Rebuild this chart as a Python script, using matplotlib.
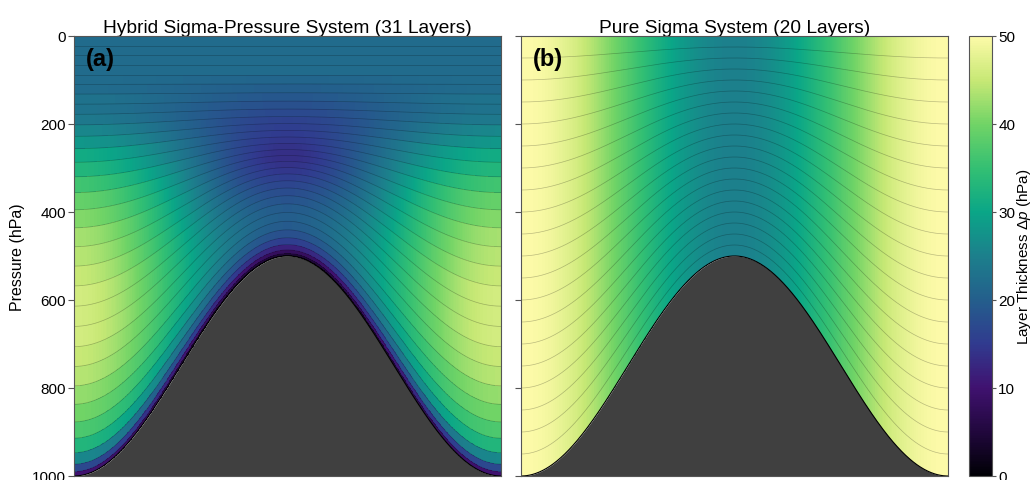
import numpy as np
import matplotlib
matplotlib.use("Agg")
import matplotlib.pyplot as plt
from matplotlib.colors import LinearSegmentedColormap

plt.rcParams["font.family"] = ["Liberation Sans", "DejaVu Sans"]
plt.rcParams["mathtext.fontset"] = "custom"
plt.rcParams["mathtext.rm"] = "Liberation Sans"
plt.rcParams["mathtext.it"] = "Liberation Sans:italic"

# hybrid half-level coefficients, p = a + b * ps  (31 layers)
a_half = [0, 22, 44, 66, 88, 108, 126, 141, 154, 164, 170, 173, 172, 168, 160, 148,
          134, 119, 104, 90, 77, 66, 57, 51, 47, 44, 40, 34, 25, 15, 7, 0]
b_half = [0, 0, 0, 0, 0, 0.002, 0.006, 0.014, 0.024, 0.038, 0.058, 0.083, 0.115,
          0.152, 0.196, 0.247, 0.302, 0.36, 0.419, 0.478, 0.537, 0.594, 0.649, 0.7,
          0.748, 0.793, 0.837, 0.88, 0.922, 0.958, 0.983, 1.0]
# pure sigma half levels (20 layers)
sigma_half = [0.0, 0.05, 0.1, 0.15, 0.2, 0.25, 0.3, 0.35, 0.4, 0.45, 0.5,
              0.55, 0.6, 0.65, 0.7, 0.75, 0.8, 0.85, 0.9, 0.95, 1.0]

p_base = 1000.0   # surface pressure away from mountain
p_peak = 500.0    # surface pressure at mountain top
titles = ["Hybrid Sigma-Pressure System (31 Layers)", "Pure Sigma System (20 Layers)"]
tags = ["(a)", "(b)"]

cmap = LinearSegmentedColormap.from_list("thick", [
    (0.00, (0.00, 0.00, 0.02)),
    (0.10, (0.13, 0.03, 0.24)),
    (0.20, (0.25, 0.07, 0.44)),
    (0.30, (0.19, 0.23, 0.56)),
    (0.40, (0.14, 0.37, 0.55)),
    (0.50, (0.11, 0.50, 0.55)),
    (0.60, (0.04, 0.65, 0.53)),
    (0.70, (0.20, 0.75, 0.45)),
    (0.80, (0.44, 0.83, 0.40)),
    (0.90, (0.78, 0.91, 0.46)),
    (1.00, (0.99, 0.98, 0.66)),
])

nx = 600
xe = np.linspace(-1, 1, nx + 1)
xc = 0.5 * (xe[1:] + xe[:-1])


def surface(x):
    return p_base - (p_base - p_peak) * 0.5 * (1 + np.cos(np.pi * x))


ps_e = surface(xe)
ps_c = surface(xc)

A_h = np.array(a_half, dtype=float)
B_h = np.array(b_half)
S = np.array(sigma_half)
systems = [(A_h, B_h), (np.zeros_like(S), S)]

fig = plt.figure(figsize=(10.33, 4.81), dpi=100)
W, H = 1033, 481
frames = [(74, 37, 427, 440), (521, 37, 427, 440)]
edge = "#555555"

for i, (A, B) in enumerate(systems):
    l, t, w, h = frames[i]
    ax = fig.add_axes([l / W, (H - t - h) / H, w / W, h / H])
    Y = A[:, None] + B[:, None] * ps_e[None, :]
    X = np.tile(xe, (len(A), 1))
    C = np.diff(A)[:, None] + np.diff(B)[:, None] * ps_c[None, :]
    mesh = ax.pcolormesh(X, Y, C, cmap=cmap, vmin=0, vmax=50, shading="flat")
    for k in range(1, len(A) - 1):
        ax.plot(xc, A[k] + B[k] * ps_c, color="k", alpha=0.25, lw=0.5, zorder=2)
    ax.fill_between(xc, ps_c, p_base, color="#404040", zorder=3, lw=0)
    ax.plot(xc, ps_c, color="k", lw=0.8, zorder=4)
    ax.set_xlim(-1, 1)
    ax.set_ylim(1000, 0)
    ax.set_xticks([])
    ax.set_yticks([0, 200, 400, 600, 800, 1000])
    ax.tick_params(axis="y", direction="out", length=4, width=0.8, color=edge,
                   labelsize=11, pad=2)
    if i == 1:
        ax.set_yticklabels([])
    else:
        ax.set_ylabel("Pressure (hPa)", fontsize=11.5, labelpad=5)
    for s in ax.spines.values():
        s.set_color(edge)
        s.set_linewidth(0.8)
        s.set_zorder(5)
    ax.set_title(titles[i], fontsize=13.8, pad=3)
    ax.text(0.027, 0.975, tags[i], transform=ax.transAxes, ha="left", va="top",
            fontsize=17, fontweight="bold", zorder=6)

cax = fig.add_axes([969 / W, (H - 37 - 440) / H, 23 / W, 440 / H])
cb = fig.colorbar(mesh, cax=cax)
cb.set_ticks([0, 10, 20, 30, 40, 50])
cb.ax.tick_params(direction="out", length=3, width=0.8, color=edge, labelsize=11,
                  pad=1.5)
cb.outline.set_edgecolor(edge)
cb.outline.set_linewidth(0.8)
cb.set_label(r"Layer Thickness $\Delta p$ (hPa)", fontsize=11, labelpad=0)

fig.savefig("out.png", dpi=100)
